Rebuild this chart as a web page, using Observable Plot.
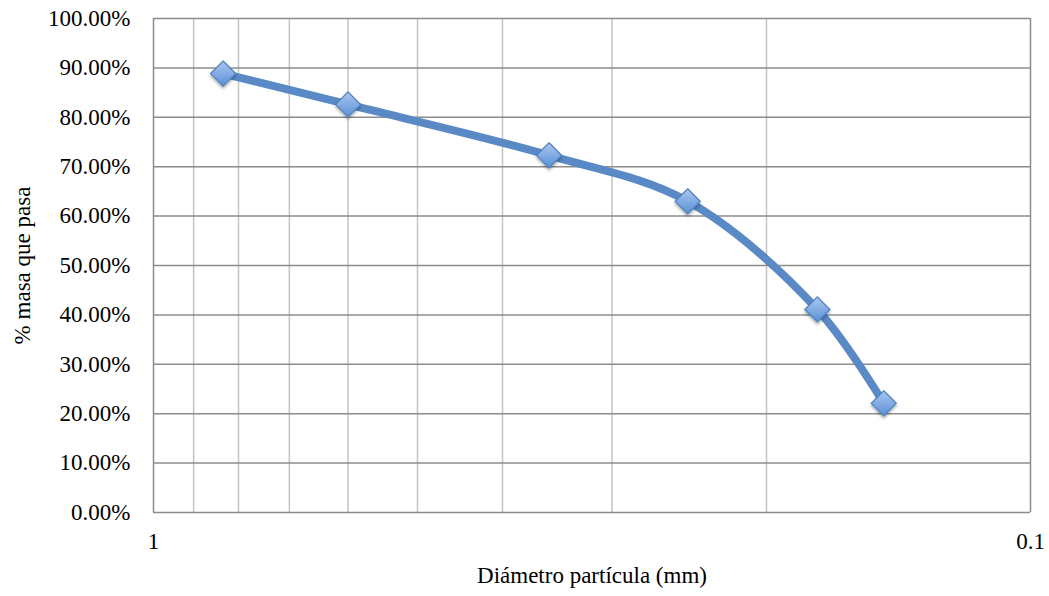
<!DOCTYPE html>
<html>
<head>
<meta charset="utf-8">
<script src="https://cdn.jsdelivr.net/npm/d3@7"></script>
<script src="https://cdn.jsdelivr.net/npm/@observablehq/plot@0.6"></script>
<style>
  html, body { margin: 0; padding: 0; background: #fff; }
  #chart { width: 1049px; height: 596px; }
  #chart svg text { font-family: 'Liberation Serif', 'Times New Roman', serif; }
</style>
</head>
<body>
<div id="chart"></div>
<script>
const diameters = [0.833, 0.6, 0.354, 0.246, 0.175, 0.147];
const passing = [0.8885, 0.826, 0.723, 0.630, 0.411, 0.221];
const xTicks = [1, 0.1];
const xGrid = [0.9, 0.8, 0.7, 0.6, 0.5, 0.4, 0.3, 0.2];
const yTicks = [0, 0.1, 0.2, 0.3, 0.4, 0.5, 0.6, 0.7, 0.8, 0.9, 1.0];
const xLabel = "Diámetro partícula (mm)";
const yLabel = "% masa que pasa";

const data = diameters.map((d, i) => ({d, p: passing[i]}));
const FS = 23;

const chart = Plot.plot({
  width: 1049,
  height: 596,
  marginLeft: 153,
  marginRight: 19,
  marginTop: 18,
  marginBottom: 84,
  style: {fontFamily: "'Liberation Serif', 'Times New Roman', serif", fontSize: FS + "px", color: "#000", background: "#fff"},
  x: {type: "log", domain: [1, 0.1], ticks: xTicks, tickFormat: d => String(d), label: null},
  y: {domain: [0, 1], ticks: yTicks, tickFormat: d3.format(".2%"), label: null},
  marks: [
    Plot.ruleX(xGrid, {stroke: "#c4c4c4", strokeWidth: 1.5}),
    Plot.ruleY(yTicks, {stroke: "#8c8c8c", strokeWidth: 1.5}),
    Plot.ruleX([1, 0.1], {stroke: "#8c8c8c", strokeWidth: 1.5}),
    Plot.axisY({ticks: yTicks, tickFormat: d3.format(".2%"), tickSize: 0, tickPadding: 23, fontSize: FS}),
    Plot.axisX({ticks: xTicks, tickFormat: d => String(d), tickSize: 0, tickPadding: 20, fontSize: FS}),
    Plot.line(data, {x: "d", y: "p", curve: "catmull-rom", stroke: "#5a8ac6", strokeWidth: 8, strokeLinecap: "round", strokeLinejoin: "round"}),
    Plot.dot(data, {x: "d", y: "p", symbol: "diamond2", r: 11.3, fill: "#7ea9e1", stroke: "#4f81bd", strokeWidth: 1.2}),
    Plot.text([xLabel], {frameAnchor: "bottom", dy: 70, fontSize: FS, fill: "#000"}),
    Plot.text([yLabel], {frameAnchor: "left", textAnchor: "middle", dx: -131, rotate: -90, fontSize: FS, fill: "#000"})
  ]
});

document.getElementById("chart").appendChild(chart);

// gradient fill + shadow for markers
const svg = d3.select(chart);
const defs = svg.insert("defs", ":first-child");
const g = defs.append("linearGradient").attr("id", "mk").attr("x1", "0").attr("y1", "0").attr("x2", "0").attr("y2", "1");
g.append("stop").attr("offset", "0%").attr("stop-color", "#a9c8f0");
g.append("stop").attr("offset", "100%").attr("stop-color", "#5b8fd6");
const f = defs.append("filter").attr("id", "sh").attr("x", "-50%").attr("y", "-50%").attr("width", "200%").attr("height", "200%");
f.append("feDropShadow").attr("dx", 0).attr("dy", 2).attr("stdDeviation", 1.5).attr("flood-color", "#000").attr("flood-opacity", 0.35);
svg.selectAll("g[aria-label='dot'] path").attr("fill", "url(#mk)").attr("filter", "url(#sh)");
</script>
</body>
</html>
